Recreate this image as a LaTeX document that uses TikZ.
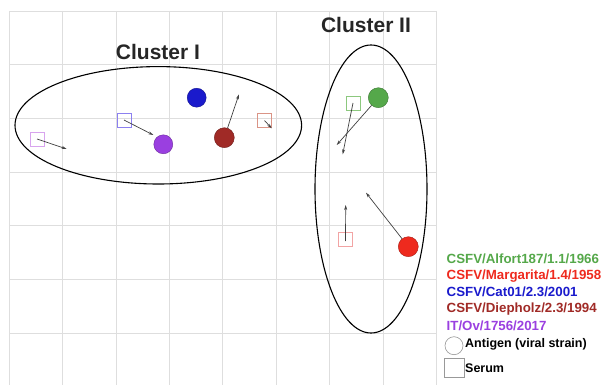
\documentclass[tikz,border=0pt]{standalone}
\usepackage{fontspec}
\setmainfont{Liberation Sans}
\usetikzlibrary{shapes.geometric, arrows.meta}
\definecolor{gridgray}{HTML}{DEDEDE}
\definecolor{alfort}{HTML}{55A84A}
\definecolor{margarita}{HTML}{EE2A1E}
\definecolor{catzero}{HTML}{1A1ACC}
\definecolor{diepholz}{HTML}{A02A26}
\definecolor{ovine}{HTML}{9A3FE0}
\definecolor{seovc}{HTML}{D8A4EE}
\definecolor{secatc}{HTML}{8C80F0}
\definecolor{sediec}{HTML}{DA9486}
\definecolor{sealfc}{HTML}{8CC87E}
\definecolor{semarc}{HTML}{F2A4A4}
\tikzstyle{antigen} = [circle, minimum size=19pt, inner sep=0pt, draw=black!60, line width=0.4pt]
\tikzstyle{serum} = [rectangle, minimum size=14pt, inner sep=0pt, line width=0.8pt]
\tikzstyle{cluster} = [ellipse, draw=black, line width=1.1pt, inner sep=0pt]
\tikzstyle{drift} = [-{Stealth[length=5pt,width=3pt]}, draw=black!75, line width=0.7pt]
\tikzstyle{legtext} = [anchor=west, inner sep=0pt, font=\fontsize{13.3}{15}\selectfont\bfseries]

\begin{document}
\begin{tikzpicture}[x=1pt, y=-1pt]
    \useasboundingbox (0,0) rectangle (605,385);
    % grid
    \foreach \i in {0,...,8}
        \draw [gridgray, line width=0.9pt] (9.3+53.4*\i,11) -- (9.3+53.4*\i,385);
    \foreach \j in {0,...,6}
        \draw [gridgray, line width=0.9pt] (9.3,11+53.7*\j) -- (436.5,11+53.7*\j);

    % clusters
    \node (c1) [cluster, minimum width=286.6pt, minimum height=117.4pt] at (158.3,125.3) {};
    \node (c2) [cluster, minimum width=112pt, minimum height=288pt] at (371,189) {};
    \node (l1) at (158,52) {\fontsize{21}{24}\selectfont\bfseries\color{black!85}Cluster I};
    \node (l2) at (366,25) {\fontsize{21}{24}\selectfont\bfseries\color{black!85}Cluster II};

    % antigens
    \node (agcat) [antigen, fill=catzero, draw=catzero!70!black] at (196.7,97.7) {};
    \node (agov) [antigen, fill=ovine, draw=ovine!70!black] at (163.3,144.3) {};
    \node (agdie) [antigen, fill=diepholz, draw=diepholz!70!black, minimum size=20pt] at (224.3,137.7) {};
    \node (agalf) [antigen, fill=alfort, draw=alfort!70!black, minimum size=20pt] at (378.3,97.7) {};
    \node (agmar) [antigen, fill=margarita, draw=margarita!70!black, minimum size=20pt] at (408.3,246.7) {};

    % sera
    \node (seov) [serum, draw=seovc] at (37,139) {};
    \node (secat) [serum, draw=secatc] at (124,120) {};
    \node (sedie) [serum, draw=sediec] at (264.5,120.5) {};
    \node (sealf) [serum, draw=sealfc] at (353,103) {};
    \node (semar) [serum, draw=semarc] at (345.5,239) {};

    % arrow tips
    \coordinate (tov) at (66.7,149);
    \coordinate (tcat) at (153.3,135);
    \coordinate (tdie) at (239,94.3);
    \coordinate (tsdie) at (271.7,128.3);
    \coordinate (tsalf) at (342.7,154.3);
    \coordinate (talf) at (336.7,145);
    \coordinate (tsmar) at (345.7,205);
    \coordinate (tmar) at (366,192.7);

    \draw [drift] (seov.center) -- (tov);
    \draw [drift] (secat.center) -- (tcat);
    \draw [drift] (agdie) -- (tdie);
    \draw [drift] (sedie.center) -- (tsdie);
    \draw [drift] (sealf.center) -- (tsalf);
    \draw [drift] (agalf) -- (talf);
    \draw [drift] ([yshift=-2pt]semar.center) -- (tsmar);
    \draw [drift] (agmar) -- (tmar);

    % legend
    \node (k1) [legtext, text=alfort] at (446.5,259) {CSFV/Alfort187/1.1/1966};
    \node (k2) [legtext, text=margarita] at (446.5,275.6) {CSFV/Margarita/1.4/1958};
    \node (k3) [legtext, text=catzero] at (446.5,292.2) {CSFV/Cat01/2.3/2001};
    \node (k4) [legtext, text=diepholz] at (446.5,308.8) {CSFV/Diepholz/2.3/1994};
    \node (k5) [legtext, text=ovine] at (446.5,325.4) {IT/Ov/1756/2017};
    \node (kag) [circle, draw=black!40, minimum size=18pt, inner sep=0pt, line width=0.6pt] at (454,345.7) {};
    \node (ksr) [rectangle, draw=black!40, minimum width=20pt, minimum height=19pt, inner sep=0pt, line width=0.6pt] at (454.3,367.3) {};
    \node (kagt) [legtext, font=\fontsize{12.5}{14}\selectfont\bfseries] at (465,344) {Antigen (viral strain)};
    \node (ksrt) [legtext, font=\fontsize{12.5}{14}\selectfont\bfseries] at (465,367.7) {Serum};
\end{tikzpicture}
\end{document}
